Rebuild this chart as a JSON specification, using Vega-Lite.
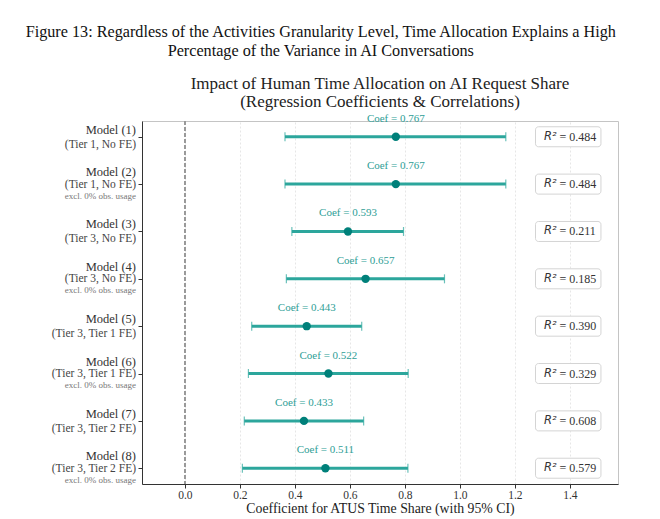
{
  "$schema": "https://vega.github.io/schema/vega-lite/v6.json",
  "background": "white",
  "padding": {"left": 24, "top": 24, "right": 5, "bottom": 2},
  "title": {
    "text": [
      "Figure 13: Regardless of the Activities Granularity Level, Time Allocation Explains a High",
      "Percentage of the Variance in AI Conversations"
    ],
    "anchor": "middle",
    "frame": "bounds",
    "dx": -14,
    "font": "Liberation Serif",
    "fontSize": 16.2,
    "fontWeight": "normal",
    "lineHeight": 19,
    "color": "#111",
    "offset": 15
  },
  "datasets": {
    "models": [
      {"model": "Model (1)", "spec": "(Tier 1, No FE)", "excl": false, "coef": 0.767, "lo": 0.364, "hi": 1.167, "coefLabel": "Coef = 0.767", "r2": "= 0.484"},
      {"model": "Model (2)", "spec": "(Tier 1, No FE)", "excl": true, "coef": 0.767, "lo": 0.364, "hi": 1.167, "coefLabel": "Coef = 0.767", "r2": "= 0.484"},
      {"model": "Model (3)", "spec": "(Tier 3, No FE)", "excl": false, "coef": 0.593, "lo": 0.389, "hi": 0.795, "coefLabel": "Coef = 0.593", "r2": "= 0.211"},
      {"model": "Model (4)", "spec": "(Tier 3, No FE)", "excl": true, "coef": 0.657, "lo": 0.369, "hi": 0.944, "coefLabel": "Coef = 0.657", "r2": "= 0.185"},
      {"model": "Model (5)", "spec": "(Tier 3, Tier 1 FE)", "excl": false, "coef": 0.443, "lo": 0.243, "hi": 0.643, "coefLabel": "Coef = 0.443", "r2": "= 0.390"},
      {"model": "Model (6)", "spec": "(Tier 3, Tier 1 FE)", "excl": true, "coef": 0.522, "lo": 0.231, "hi": 0.812, "coefLabel": "Coef = 0.522", "r2": "= 0.329"},
      {"model": "Model (7)", "spec": "(Tier 3, Tier 2 FE)", "excl": false, "coef": 0.433, "lo": 0.216, "hi": 0.650, "coefLabel": "Coef = 0.433", "r2": "= 0.608"},
      {"model": "Model (8)", "spec": "(Tier 3, Tier 2 FE)", "excl": true, "coef": 0.511, "lo": 0.209, "hi": 0.811, "coefLabel": "Coef = 0.511", "r2": "= 0.579"}
    ]
  },
  "vconcat": [
    {
      "width": 476,
      "height": 363,
      "title": {
        "text": [
          "Impact of Human Time Allocation on AI Request Share",
          "(Regression Coefficients & Correlations)"
        ],
        "anchor": "middle",
        "frame": "group",
        "font": "Liberation Serif",
        "fontSize": 17,
        "fontWeight": "normal",
        "lineHeight": 18,
        "color": "#222",
        "offset": 2
      },
      "data": {"name": "models"},
      "layer": [
        {
          "mark": {"type": "rule", "color": "#9a9a9a", "strokeWidth": 1, "strokeDash": [4, 2]},
          "encoding": {
            "x": {"datum": 0, "type": "quantitative", "scale": {"domain": [-0.156, 1.575], "nice": false, "zero": false}, "title": "Coefficient for ATUS Time Share (with 95% CI)"}
          }
        },
        {
          "mark": {"type": "bar", "height": 20, "cornerRadius": 3, "fill": "white", "stroke": "#d4d4d4", "strokeWidth": 1},
          "encoding": {
            "x": {"datum": 1.275, "type": "quantitative", "scale": {"domain": [-0.156, 1.575], "nice": false, "zero": false}, "title": "Coefficient for ATUS Time Share (with 95% CI)"},
            "x2": {"datum": 1.513},
            "y": {"field": "model", "type": "nominal", "sort": null, "scale": {"type": "point", "padding": 0.333}, "title": null}
          }
        },
        {
          "mark": {"type": "rule", "color": "#2ca69c", "strokeWidth": 3},
          "encoding": {
            "x": {"field": "lo", "type": "quantitative", "scale": {"domain": [-0.156, 1.575], "nice": false, "zero": false}, "title": "Coefficient for ATUS Time Share (with 95% CI)"},
            "x2": {"field": "hi"},
            "y": {"field": "model", "type": "nominal", "sort": null, "scale": {"type": "point", "padding": 0.333}, "title": null}
          }
        },
        {
          "mark": {"type": "tick", "orient": "vertical", "size": 9, "thickness": 1.2, "color": "#2ca69c"},
          "encoding": {
            "x": {"field": "lo", "type": "quantitative", "scale": {"domain": [-0.156, 1.575], "nice": false, "zero": false}, "title": "Coefficient for ATUS Time Share (with 95% CI)"},
            "y": {"field": "model", "type": "nominal", "sort": null, "scale": {"type": "point", "padding": 0.333}, "title": null}
          }
        },
        {
          "mark": {"type": "tick", "orient": "vertical", "size": 9, "thickness": 1.2, "color": "#2ca69c"},
          "encoding": {
            "x": {"field": "hi", "type": "quantitative", "scale": {"domain": [-0.156, 1.575], "nice": false, "zero": false}, "title": "Coefficient for ATUS Time Share (with 95% CI)"},
            "y": {"field": "model", "type": "nominal", "sort": null, "scale": {"type": "point", "padding": 0.333}, "title": null}
          }
        },
        {
          "mark": {"type": "circle", "size": 70, "color": "#00807a", "opacity": 1},
          "encoding": {
            "x": {"field": "coef", "type": "quantitative", "scale": {"domain": [-0.156, 1.575], "nice": false, "zero": false}, "title": "Coefficient for ATUS Time Share (with 95% CI)"},
            "y": {"field": "model", "type": "nominal", "sort": null, "scale": {"type": "point", "padding": 0.333}, "title": null}
          }
        },
        {
          "mark": {"type": "text", "font": "Liberation Serif", "fontSize": 11, "color": "#2e9e96", "dy": -18, "baseline": "middle"},
          "encoding": {
            "x": {"field": "coef", "type": "quantitative", "scale": {"domain": [-0.156, 1.575], "nice": false, "zero": false}, "title": "Coefficient for ATUS Time Share (with 95% CI)"},
            "y": {"field": "model", "type": "nominal", "sort": null, "scale": {"type": "point", "padding": 0.333}, "title": null},
            "text": {"field": "coefLabel"}
          }
        },
        {
          "mark": {"type": "text", "font": "DejaVu Sans", "fontStyle": "italic", "fontSize": 11.5, "color": "#333", "align": "right", "dx": -1, "baseline": "middle"},
          "encoding": {
            "x": {"datum": 1.355, "type": "quantitative", "scale": {"domain": [-0.156, 1.575], "nice": false, "zero": false}, "title": "Coefficient for ATUS Time Share (with 95% CI)"},
            "y": {"field": "model", "type": "nominal", "sort": null, "scale": {"type": "point", "padding": 0.333}, "title": null},
            "text": {"value": "R²"}
          }
        },
        {
          "mark": {"type": "text", "font": "Liberation Serif", "fontSize": 12, "color": "#333", "align": "left", "dx": 2, "baseline": "middle"},
          "encoding": {
            "x": {"datum": 1.355, "type": "quantitative", "scale": {"domain": [-0.156, 1.575], "nice": false, "zero": false}, "title": "Coefficient for ATUS Time Share (with 95% CI)"},
            "y": {"field": "model", "type": "nominal", "sort": null, "scale": {"type": "point", "padding": 0.333}, "title": null},
            "text": {"field": "r2"}
          }
        },
        {
          "transform": [{"filter": "!datum.excl"}],
          "mark": {"type": "text", "font": "Liberation Serif", "fontSize": 12.5, "color": "#333", "align": "right", "dx": -6, "dy": -7, "baseline": "middle"},
          "encoding": {
            "x": {"datum": -0.156, "type": "quantitative", "scale": {"domain": [-0.156, 1.575], "nice": false, "zero": false}, "title": "Coefficient for ATUS Time Share (with 95% CI)"},
            "y": {"field": "model", "type": "nominal", "sort": null, "scale": {"type": "point", "padding": 0.333}, "title": null},
            "text": {"field": "model"}
          }
        },
        {
          "transform": [{"filter": "!datum.excl"}],
          "mark": {"type": "text", "font": "Liberation Serif", "fontSize": 11.5, "color": "#444", "align": "right", "dx": -6, "dy": 8, "baseline": "middle"},
          "encoding": {
            "x": {"datum": -0.156, "type": "quantitative", "scale": {"domain": [-0.156, 1.575], "nice": false, "zero": false}, "title": "Coefficient for ATUS Time Share (with 95% CI)"},
            "y": {"field": "model", "type": "nominal", "sort": null, "scale": {"type": "point", "padding": 0.333}, "title": null},
            "text": {"field": "spec"}
          }
        },
        {
          "transform": [{"filter": "datum.excl"}],
          "mark": {"type": "text", "font": "Liberation Serif", "fontSize": 12.5, "color": "#333", "align": "right", "dx": -6, "dy": -12, "baseline": "middle"},
          "encoding": {
            "x": {"datum": -0.156, "type": "quantitative", "scale": {"domain": [-0.156, 1.575], "nice": false, "zero": false}, "title": "Coefficient for ATUS Time Share (with 95% CI)"},
            "y": {"field": "model", "type": "nominal", "sort": null, "scale": {"type": "point", "padding": 0.333}, "title": null},
            "text": {"field": "model"}
          }
        },
        {
          "transform": [{"filter": "datum.excl"}],
          "mark": {"type": "text", "font": "Liberation Serif", "fontSize": 11.5, "color": "#444", "align": "right", "dx": -6, "dy": 0.5, "baseline": "middle"},
          "encoding": {
            "x": {"datum": -0.156, "type": "quantitative", "scale": {"domain": [-0.156, 1.575], "nice": false, "zero": false}, "title": "Coefficient for ATUS Time Share (with 95% CI)"},
            "y": {"field": "model", "type": "nominal", "sort": null, "scale": {"type": "point", "padding": 0.333}, "title": null},
            "text": {"field": "spec"}
          }
        },
        {
          "transform": [{"filter": "datum.excl"}],
          "mark": {"type": "text", "font": "Liberation Serif", "fontSize": 9, "color": "#777", "align": "right", "dx": -6, "dy": 11.5, "baseline": "middle"},
          "encoding": {
            "x": {"datum": -0.156, "type": "quantitative", "scale": {"domain": [-0.156, 1.575], "nice": false, "zero": false}, "title": "Coefficient for ATUS Time Share (with 95% CI)"},
            "y": {"field": "model", "type": "nominal", "sort": null, "scale": {"type": "point", "padding": 0.333}, "title": null},
            "text": {"value": "excl. 0% obs. usage"}
          }
        }
      ]
    }
  ],
  "config": {
    "view": {"stroke": "#c4c4c4", "strokeWidth": 1},
    "axisX": {
      "values": [0, 0.2, 0.4, 0.6, 0.8, 1.0, 1.2, 1.4],
      "format": ".1f",
      "grid": true,
      "gridColor": "#e6e6e6",
      "gridDash": [2, 2],
      "tickSize": 4,
      "tickColor": "#333",
      "domainColor": "#333",
      "labelFont": "Liberation Serif",
      "labelFontSize": 11.5,
      "labelColor": "#333",
      "labelPadding": 1,
      "titleFont": "Liberation Serif",
      "titleFontSize": 13.8,
      "titleFontWeight": "normal",
      "titleColor": "#222",
      "titlePadding": 1
    },
    "axisY": {
      "labels": false,
      "grid": false,
      "tickSize": 4,
      "tickColor": "#333",
      "domainColor": "#333"
    }
  }
}
